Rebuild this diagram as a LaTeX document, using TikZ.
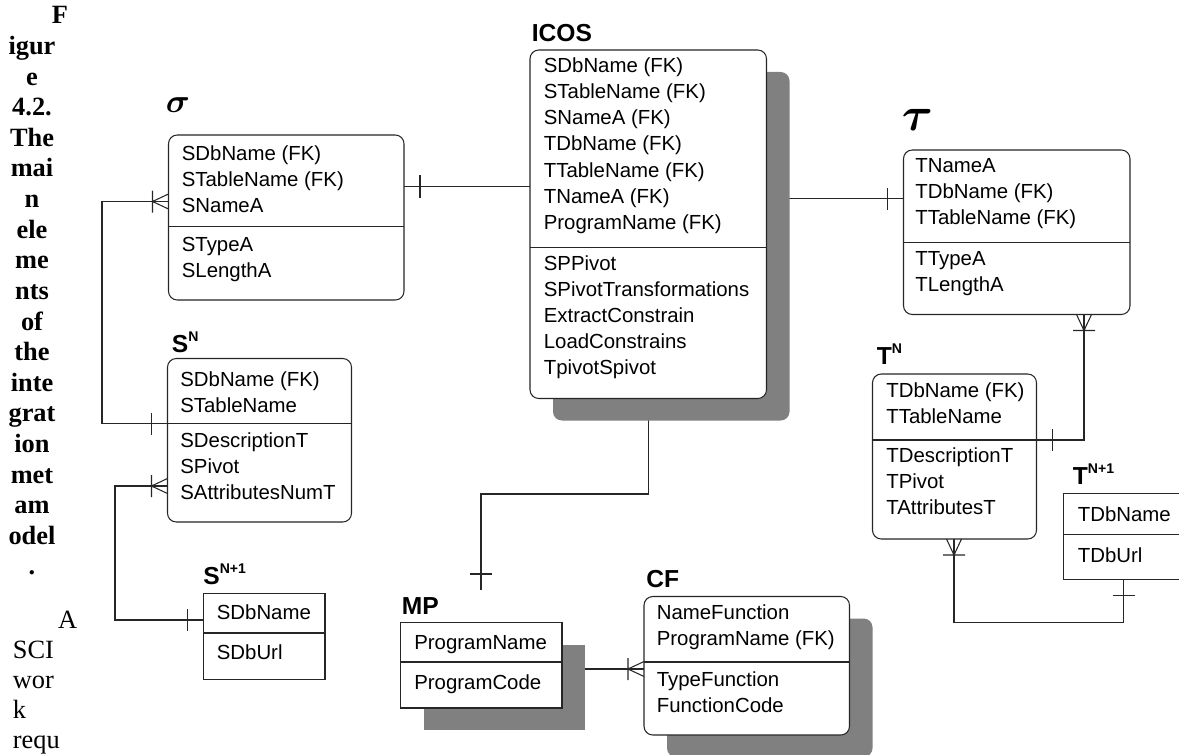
\documentclass[tikz,border=0pt]{standalone}
\usepackage{amsmath}
\usepackage{fontspec}
\setmainfont{Liberation Serif}
\setsansfont{Liberation Sans}
\usetikzlibrary{shadows,backgrounds}

\begin{document}
\begin{tikzpicture}[
  x=1cm, y=-1cm,
  ent/.style={draw=black!85, line width=0.6pt, fill=white, rounded corners=5pt,
              anchor=north west, inner sep=0pt, outer sep=0pt},
  tbl/.style={ent, sharp corners},
  shadowed/.style={drop shadow={shadow xshift=0.46cm, shadow yshift=-0.44cm,
                                fill=black!50, opacity=1}},
  attr/.style={font=\sffamily\fontsize{11.6}{14.85}\selectfont, align=left,
               anchor=north west, inner sep=0pt, execute at begin node=\strut},
  ttl/.style={font=\sffamily\bfseries\fontsize{14}{16}\selectfont,
              anchor=base west, inner sep=0pt},
  greek/.style={inner sep=0pt},
  capcol/.style={font=\rmfamily\bfseries\fontsize{15}{17.42}\selectfont,
                 align=center, anchor=north, inner sep=0pt,
                 execute at begin node=\strut},
  bodycol/.style={font=\rmfamily\fontsize{15}{17}\selectfont, align=left,
                  anchor=north west, inner sep=0pt, execute at begin node=\strut},
  link/.style={draw=black!85, line width=0.6pt},
  one/.pic={\draw[link] (0.32,-0.22) -- (0.32,0.22);},
  many/.pic={\draw[link] (0.32,-0.22) -- (0.32,0.22)
                         (0,-0.15) -- (0.32,0) -- (0,0.15);}
]
  \useasboundingbox (0,0) rectangle (23.58,15.1);

  % caption column and text beside the figure
  \node[capcol] (cap) at (0.64,0.126) {\hspace*{31.9pt}F\\igur\\e\\4.2.\\The\\mai\\n\\ele\\me\\nts\\of\\the\\inte\\grat\\ion\\met\\am\\odel\\.};
  \node[bodycol] (body) at (0.25,12.22) {\hspace*{25.8pt}A\\SCI\\wor\\k\\requ};

  % sigma
  \node[ent, minimum width=4.71cm, minimum height=3.30cm] (sig) at (3.37,2.70) {};
  \draw[link] ([yshift=-1.83cm]sig.north west) -- ([yshift=-1.83cm]sig.north east);
  \node[attr] (sigK) at (3.63,2.90) {SDbName (FK)\\STableName (FK)\\SNameA};
  \node[attr] (sigA) at (3.63,4.74) {STypeA\\SLengthA};
  \node[greek, scale=1.9] (sigT) at (3.56,2.10) {$\boldsymbol{\sigma}$};

  % S^N
  \node[ent, minimum width=3.68cm, minimum height=3.27cm] (sn) at (3.35,7.17) {};
  \draw[link] ([yshift=-1.30cm]sn.north west) -- ([yshift=-1.30cm]sn.north east);
  \node[attr] (snK) at (3.60,7.42) {SDbName (FK)\\STableName};
  \node[attr] (snA) at (3.60,8.65) {SDescriptionT\\SPivot\\SAttributesNumT};
  \node[ttl] (snT) at (3.43,7.04) {S\raisebox{6pt}{\fontsize{8}{8}\selectfont N}};

  % S^{N+1}
  \node[tbl, minimum width=2.43cm, minimum height=1.72cm] (snn) at (4.07,11.87) {};
  \draw[link] ([yshift=-0.79cm]snn.north west) -- ([yshift=-0.79cm]snn.north east);
  \node[attr] (snnK) at (4.33,12.02) {SDbName};
  \node[attr] (snnA) at (4.33,12.82) {SDbUrl};
  \node[ttl] (snnT) at (4.06,11.68) {S\raisebox{6pt}{\fontsize{8}{8}\selectfont N+1}};

  % ICOS
  \node[ent, shadowed, minimum width=4.73cm, minimum height=6.97cm] (icos) at (10.60,1.00) {};
  \draw[link] ([yshift=-3.95cm]icos.north west) -- ([yshift=-3.95cm]icos.north east);
  \node[attr] (icosK) at (10.87,1.15) {SDbName (FK)\\STableName (FK)\\SNameA (FK)\\TDbName (FK)\\TTableName (FK)\\TNameA (FK)\\ProgramName (FK)};
  \node[attr] (icosA) at (10.87,5.10) {SPPivot\\SPivotTransformations\\ExtractConstrain\\LoadConstrains\\TpivotSpivot};
  \node[ttl] (icosT) at (10.63,0.83) {ICOS};

  % tau
  \node[ent, minimum width=4.53cm, minimum height=3.29cm] (tau) at (18.07,3.00) {};
  \draw[link] ([yshift=-1.85cm]tau.north west) -- ([yshift=-1.85cm]tau.north east);
  \node[attr] (tauK) at (18.30,3.16) {TNameA\\TDbName (FK)\\TTableName (FK)};
  \node[attr] (tauA) at (18.30,5.02) {TTypeA\\TLengthA};
  \node[greek, scale=2.7] (tauT) at (18.35,2.40) {$\boldsymbol{\tau}$};

  % T^N
  \node[ent, minimum width=3.28cm, minimum height=3.30cm] (tn) at (17.45,7.48) {};
  \draw[link] ([yshift=-1.32cm]tn.north west) -- ([yshift=-1.32cm]tn.north east);
  \node[attr] (tnK) at (17.72,7.65) {TDbName (FK)\\TTableName};
  \node[attr] (tnA) at (17.72,8.95) {TDescriptionT\\TPivot\\TAttributesT};
  \node[ttl] (tnT) at (17.53,7.28) {T\raisebox{6pt}{\fontsize{8}{8}\selectfont N}};

  % T^{N+1}
  \node[tbl, minimum width=2.43cm, minimum height=1.72cm] (tnn) at (21.27,9.87) {};
  \draw[link] ([yshift=-0.82cm]tnn.north west) -- ([yshift=-0.82cm]tnn.north east);
  \node[attr] (tnnK) at (21.55,10.05) {TDbName};
  \node[attr] (tnnA) at (21.55,10.88) {TDbUrl};
  \node[ttl] (tnnT) at (21.45,9.68) {T\raisebox{6pt}{\fontsize{8}{8}\selectfont N+1}};

  % MP
  \node[tbl, shadowed, minimum width=3.23cm, minimum height=1.71cm] (mp) at (8.01,12.45) {};
  \draw[link] ([yshift=-0.79cm]mp.north west) -- ([yshift=-0.79cm]mp.north east);
  \node[attr] (mpK) at (8.28,12.62) {ProgramName};
  \node[attr] (mpA) at (8.28,13.42) {ProgramCode};
  \node[ttl] (mpT) at (8.03,12.28) {MP};

  % CF
  \node[ent, shadowed, minimum width=4.11cm, minimum height=2.77cm] (cf) at (12.88,11.93) {};
  \draw[link] ([yshift=-1.31cm]cf.north west) -- ([yshift=-1.31cm]cf.north east);
  \node[attr] (cfK) at (13.13,12.08) {NameFunction\\ProgramName (FK)};
  \node[attr] (cfA) at (13.13,13.42) {TypeFunction\\FunctionCode};
  \node[ttl] (cfT) at (12.92,11.75) {CF};

  % relationships
  \coordinate (mpend) at (9.62,11.80);
  \begin{scope}[on background layer]
    \draw[link] ([yshift=-1.03cm]sig.north east) coordinate (p1) -- (p1 -| icos.west);
    \draw[link] ([yshift=-0.97cm]tau.north west) coordinate (p2) -- (p2 -| icos.east);
    \draw[link] ([yshift=-1.33cm]sig.north west) coordinate (p3) -- ++(-1.33,0)
                |- ([yshift=-1.30cm]sn.north west) coordinate (p4);
    \draw[link] ([yshift=-2.55cm]sn.north west) coordinate (p5) -- ++(-1.05,0)
                |- ([yshift=-0.53cm]snn.north west) coordinate (p6);
    \draw[link] ([xshift=3.61cm]tau.south west) coordinate (p7)
                |- ([yshift=-1.32cm]tn.north east) coordinate (p8);
    \draw[link] ([xshift=1.63cm]tn.south west) coordinate (p9) -- ++(0,1.67)
                -| ([xshift=1.20cm]tnn.south west) coordinate (p10);
    \draw[link] (icos.south) -- ++(0,1.91) -| (mpend);
    \draw[link] ([yshift=-0.93cm]mp.north east) coordinate (p11) -- (p11 -| cf.west) coordinate (p12);
  \end{scope}

  \pic at (p1) {one};
  \pic[rotate=180] at (p2) {one};
  \pic[rotate=180] at (p3) {many};
  \pic[rotate=180] at (p4) {one};
  \pic[rotate=180] at (p5) {many};
  \pic[rotate=180] at (p6) {one};
  \pic[rotate=-90] at (p7) {many};
  \pic at (p8) {one};
  \pic[rotate=-90] at (p9) {many};
  \pic[rotate=-90] at (p10) {one};
  \pic[rotate=90] at (mpend) {one};
  \pic[rotate=180] at (p12) {many};
\end{tikzpicture}
\end{document}
